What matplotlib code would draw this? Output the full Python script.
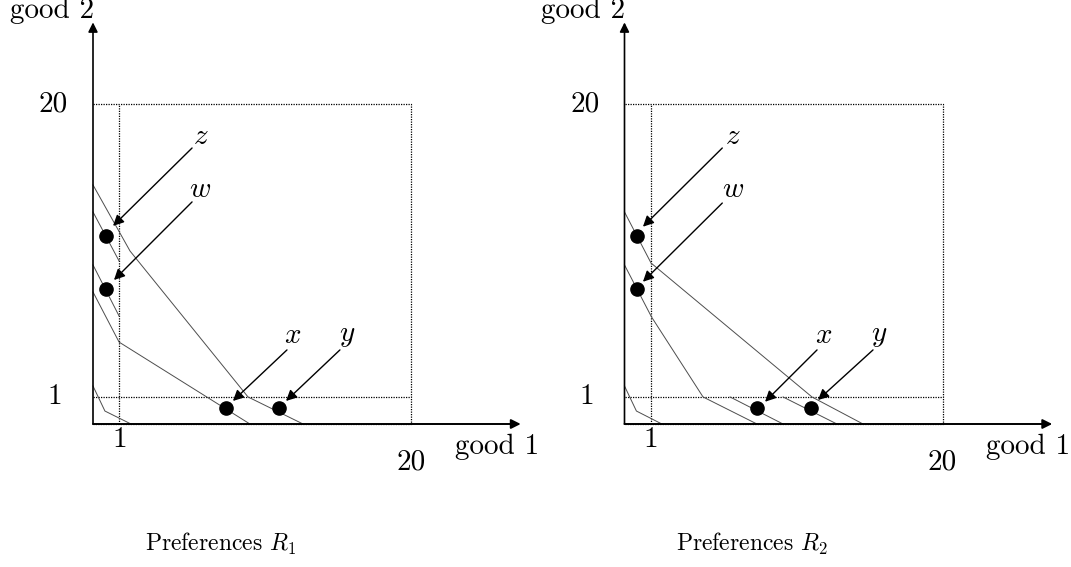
import matplotlib
matplotlib.use("Agg")
import matplotlib.pyplot as plt

plt.rcParams['mathtext.fontset'] = 'cm'
plt.rcParams['font.family'] = 'cmr10'
plt.rcParams['axes.unicode_minus'] = False

# drawing units: box corner is "20", the "1" lines sit a bit off the origin
box = 20.0
one_x = 1.65
one_y = 1.7

# bundles, the same in both panels
pts = {"z": (0.8, 11.75), "w": (0.8, 8.45), "x": (8.35, 1.0), "y": (11.7, 1.0)}

# indifference curves, preferences R1
r1_curves = [
    ([0, 2.33, 9.75, 13.21], [14.94, 10.81, 1.69, 0]),
    ([0, 1.64], [13.25, 10.19]),
    ([0, 1.64], [9.94, 6.75]),
    ([0, 1.64, 9.87], [8.25, 5.12, 0]),
    ([0, 0.75, 2.39], [2.375, 0.81, 0]),
]

# indifference curves, preferences R2
r2_curves = [
    ([0, 1.67, 11.79, 15.0], [13.25, 10.06, 1.69, 0]),
    ([0, 1.70, 4.94, 8.33], [9.94, 6.69, 1.69, 0]),
    ([6.64, 9.97], [1.69, 0]),
    ([9.97, 13.36], [1.69, 0]),
    ([0, 0.75, 2.35], [2.375, 0.81, 0]),
]

# label positions and arrow start/end for each panel
r1_labels = {"z": (6.75, 17.94), "w": (6.75, 14.63), "x": (12.58, 5.5), "y": (15.97, 5.5)}
r1_arrows = {"z": ((6.23, 17.25), (1.26, 12.38)), "w": ((6.23, 13.88), (1.32, 9.0)),
             "x": ((12.2, 4.63), (8.8, 1.44)), "y": ((15.53, 4.63), (12.14, 1.44))}
r2_labels = {"z": (6.82, 17.94), "w": (6.82, 14.63), "x": (12.55, 5.5), "y": (16.0, 5.5)}
r2_arrows = {"z": ((6.15, 17.25), (1.16, 12.33)), "w": ((6.15, 13.81), (1.16, 8.89)),
             "x": ((12.11, 4.63), (8.84, 1.39)), "y": ((15.63, 4.63), (12.17, 1.5))}

W, H = 1071, 567
fs = 21


def arrow(ax, start, end, lw=1.0, ms=16):
    ax.annotate("", xy=end, xytext=start, annotation_clip=False,
                arrowprops=dict(arrowstyle="-|>", color="black", lw=lw,
                                mutation_scale=ms, shrinkA=0, shrinkB=0))


def panel(left_px, curves, labels, arrows, title):
    ax = plt.gcf().add_axes([left_px / W, (H - 424) / H, 318 / W, 320 / H])
    ax.set_xlim(0, box)
    ax.set_ylim(0, box)
    ax.axis("off")

    # box and the "1" lines
    dot = dict(color="black", lw=0.9, ls=(0, (1, 1)), clip_on=False)
    ax.plot([0, box, box, 0], [box, box, 0, 0], **dot)
    ax.plot([one_x, one_x], [0, box], **dot)
    ax.plot([0, box], [one_y, one_y], **dot)

    for xs, ys in curves:
        ax.plot(xs, ys, color="0.3", lw=0.7, clip_on=False)

    # axes with arrow heads
    arrow(ax, (0, 0), (0, 25.1), lw=1.2, ms=14)
    arrow(ax, (0, 0), (26.9, 0), lw=1.4, ms=14)

    for k, (px, py) in pts.items():
        ax.plot(px, py, "o", color="black", ms=9.5, clip_on=False)
        ax.text(*labels[k], "$%s$" % k, fontsize=fs, ha="center", va="center")
        arrow(ax, *arrows[k])

    ax.text(-2.5, box, "20", fontsize=fs, ha="center", va="center")
    ax.text(-2.4, one_y, "1", fontsize=fs, ha="center", va="center")
    ax.text(one_x, -1.0, "1", fontsize=fs, ha="center", va="center")
    ax.text(box, -2.4, "20", fontsize=fs, ha="center", va="center")
    ax.text(25.4, -1.44, "good 1", fontsize=fs, ha="center", va="center")
    ax.text(-2.6, 25.8, "good 2", fontsize=fs, ha="center", va="center")
    ax.text(8.0, -7.5, title, fontsize=17, ha="center", va="center")


fig = plt.figure(figsize=(W / 100, H / 100), dpi=100)
panel(93, r1_curves, r1_labels, r1_arrows, "Preferences $R_1$")
panel(624.5, r2_curves, r2_labels, r2_arrows, "Preferences $R_2$")
fig.savefig("out.png", dpi=100)
